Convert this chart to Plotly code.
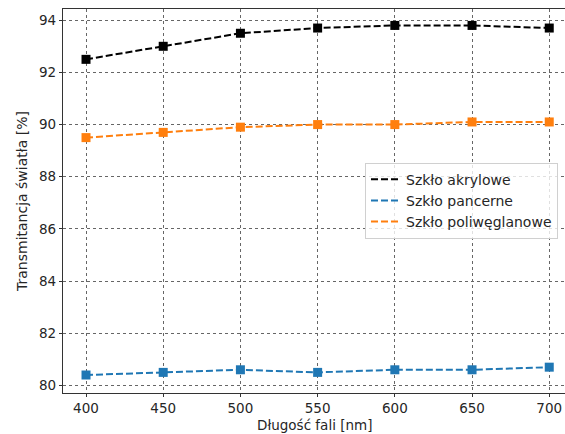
import plotly.graph_objects as go

wavelength = [400, 450, 500, 550, 600, 650, 700]
akrylowe = [92.5, 93.0, 93.5, 93.7, 93.8, 93.8, 93.7]
pancerne = [80.4, 80.5, 80.6, 80.5, 80.6, 80.6, 80.7]
poliweglanowe = [89.5, 89.7, 89.9, 90.0, 90.0, 90.1, 90.1]

series = [
    ("Szkło akrylowe", akrylowe, "#000000"),
    ("Szkło pancerne", pancerne, "#1f77b4"),
    ("Szkło poliwęglanowe", poliweglanowe, "#ff7f0e"),
]

fig = go.Figure()
for name, vals, col in series:
    fig.add_trace(go.Scatter(
        x=wavelength, y=vals, mode="lines", name=name,
        line=dict(color=col, width=2, dash="7px,3px"),
    ))
for name, vals, col in series:
    fig.add_trace(go.Scatter(
        x=wavelength, y=vals, mode="markers", showlegend=False,
        marker=dict(color=col, size=9, symbol="square"),
    ))

font = dict(family="DejaVu Sans", size=14, color="#262626")
tick_font = dict(family="DejaVu Sans", size=13.5, color="#262626")
title_font = dict(family="DejaVu Sans", size=13.5, color="#262626")
axis_common = dict(
    showgrid=True, gridcolor="#666", griddash="dot", gridwidth=1,
    ticks="outside", ticklen=3, tickcolor="#333", tickwidth=1,
    showline=True, linecolor="#333", linewidth=1.2,
    zeroline=False, tickfont=tick_font, automargin=False,
)
fig.update_layout(
    width=565, height=434,
    margin=dict(l=63, r=0, t=9, b=41),
    paper_bgcolor="white", plot_bgcolor="white",
    font=font,
    xaxis=dict(range=[385.1, 710.2], tickvals=wavelength, mirror=True, **axis_common),
    yaxis=dict(range=[79.71, 94.43], tickvals=[80, 82, 84, 86, 88, 90, 92, 94],
               title=dict(text="Transmitancja światła [%]", font=font, standoff=8), **axis_common),
    legend=dict(x=0.6016, y=0.60, xanchor="left", yanchor="top",
                bgcolor="rgba(255,255,255,0.8)", bordercolor="#d0d0d0", borderwidth=1,
                font=font, tracegroupgap=0, itemwidth=30),
)
fig.add_annotation(text="Długość fali [nm]", xref="paper", yref="paper",
                   x=0.5, y=0, xanchor="center", yanchor="bottom",
                   yshift=-41, showarrow=False, font=title_font, borderpad=0)
fig.write_html("out.html")
